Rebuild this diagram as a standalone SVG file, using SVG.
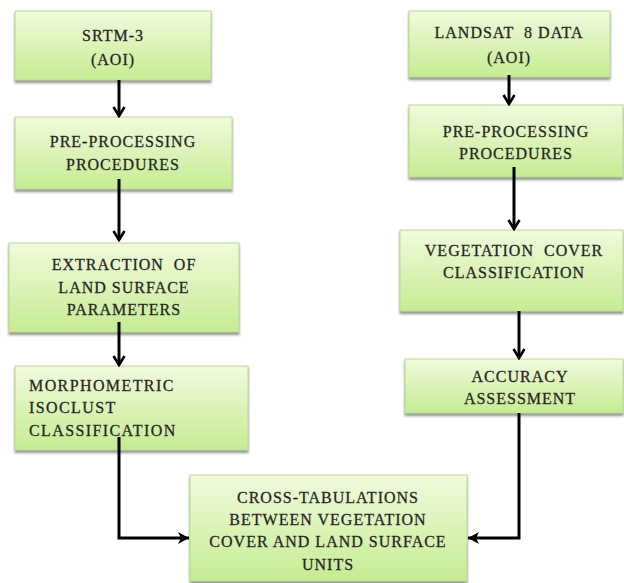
<svg xmlns="http://www.w3.org/2000/svg" width="624" height="583" viewBox="0 0 624 583">
<defs>
<linearGradient id="g" x1="0" y1="0" x2="0" y2="1">
<stop offset="0" stop-color="#f0fbdc"/>
<stop offset="1" stop-color="#c6ec92"/>
</linearGradient>
<filter id="sh" x="-5%" y="-5%" width="110%" height="120%">
<feDropShadow dx="0" dy="2.5" stdDeviation="1" flood-color="#777" flood-opacity="0.8"/>
</filter>
<marker id="arr" viewBox="0 0 14 14" refX="12" refY="7" markerWidth="14" markerHeight="14" orient="auto" markerUnits="userSpaceOnUse">
<path d="M3,1.5 L12,7 L3,12.5" fill="none" stroke="#000" stroke-width="2.6" stroke-linejoin="miter"/>
</marker>
<marker id="arrF" viewBox="0 0 14 14" refX="13" refY="7" markerWidth="14" markerHeight="14" orient="auto" markerUnits="userSpaceOnUse">
<path d="M2,1 L13,7 L2,13 L5,7 Z" fill="#000"/>
</marker>
</defs>
<style>
.box{fill:url(#g);stroke:#b9dc92;stroke-width:1;filter:url(#sh)}
text{font-family:"Liberation Serif","Times New Roman",serif;font-size:16px;fill:#1e1e1e;stroke:#333;stroke-width:0.3;letter-spacing:1px;white-space:pre}
.c{text-anchor:middle}
.w{letter-spacing:1.4px}
.ln{fill:none;stroke:#000;stroke-width:3}
</style>
<g id="srtm">
<rect class="box" x="15" y="11" width="196" height="69"/>
<text class="c" x="113" y="41">SRTM-3</text>
<text class="c" x="113" y="65">(AOI)</text>
</g>
<g id="preproc-left">
<rect class="box" x="15" y="117" width="217" height="72"/>
<text class="c" x="123" y="147">PRE-PROCESSING</text>
<text class="c" x="123" y="170">PROCEDURES</text>
</g>
<g id="extraction">
<rect class="box" x="9" y="243" width="230" height="89"/>
<text class="c" x="124" y="270">EXTRACTION  OF</text>
<text class="c" x="124" y="293">LAND SURFACE</text>
<text class="c" x="124" y="315">PARAMETERS</text>
</g>
<g id="morphometric">
<rect class="box" x="15" y="366" width="233" height="84"/>
<text class="w" x="29" y="391">MORPHOMETRIC</text>
<text class="w" x="29" y="413">ISOCLUST</text>
<text class="w" x="29" y="436">CLASSIFICATION</text>
</g>
<g id="crosstab">
<rect class="box" x="190" y="475" width="277" height="106"/>
<text class="c" x="328" y="503">CROSS-TABULATIONS</text>
<text class="c" x="328" y="525">BETWEEN VEGETATION</text>
<text class="c" x="328" y="547">COVER AND LAND SURFACE</text>
<text class="c" x="328" y="570">UNITS</text>
</g>
<g id="landsat">
<rect class="box" x="409" y="11" width="201" height="66"/>
<text class="c" x="509" y="38">LANDSAT  8 DATA</text>
<text class="c" x="509" y="63">(AOI)</text>
</g>
<g id="preproc-right">
<rect class="box" x="409" y="105" width="214" height="72"/>
<text class="c" x="516" y="137">PRE-PROCESSING</text>
<text class="c" x="516" y="159">PROCEDURES</text>
</g>
<g id="vegetation">
<rect class="box" x="400" y="230" width="223" height="81"/>
<text class="c" x="514" y="256">VEGETATION  COVER</text>
<text class="c" x="514" y="278">CLASSIFICATION</text>
</g>
<g id="accuracy">
<rect class="box" x="405" y="359" width="218" height="54"/>
<text class="c" x="520" y="382">ACCURACY</text>
<text class="c" x="520" y="404">ASSESSMENT</text>
</g>
<g id="connectors">
<path class="ln" d="M119,80 V116" marker-end="url(#arr)"/>
<path class="ln" d="M119,179 V240" marker-end="url(#arr)"/>
<path class="ln" d="M119,322 V365" marker-end="url(#arr)"/>
<path class="ln" d="M119,437 V538 H189" marker-end="url(#arrF)"/>
<path class="ln" d="M509,75 V104" marker-end="url(#arr)"/>
<path class="ln" d="M514,167 V229" marker-end="url(#arr)"/>
<path class="ln" d="M519,311 V358" marker-end="url(#arr)"/>
<path class="ln" d="M519,413 V538 H468" marker-end="url(#arrF)"/>
</g>
</svg>
